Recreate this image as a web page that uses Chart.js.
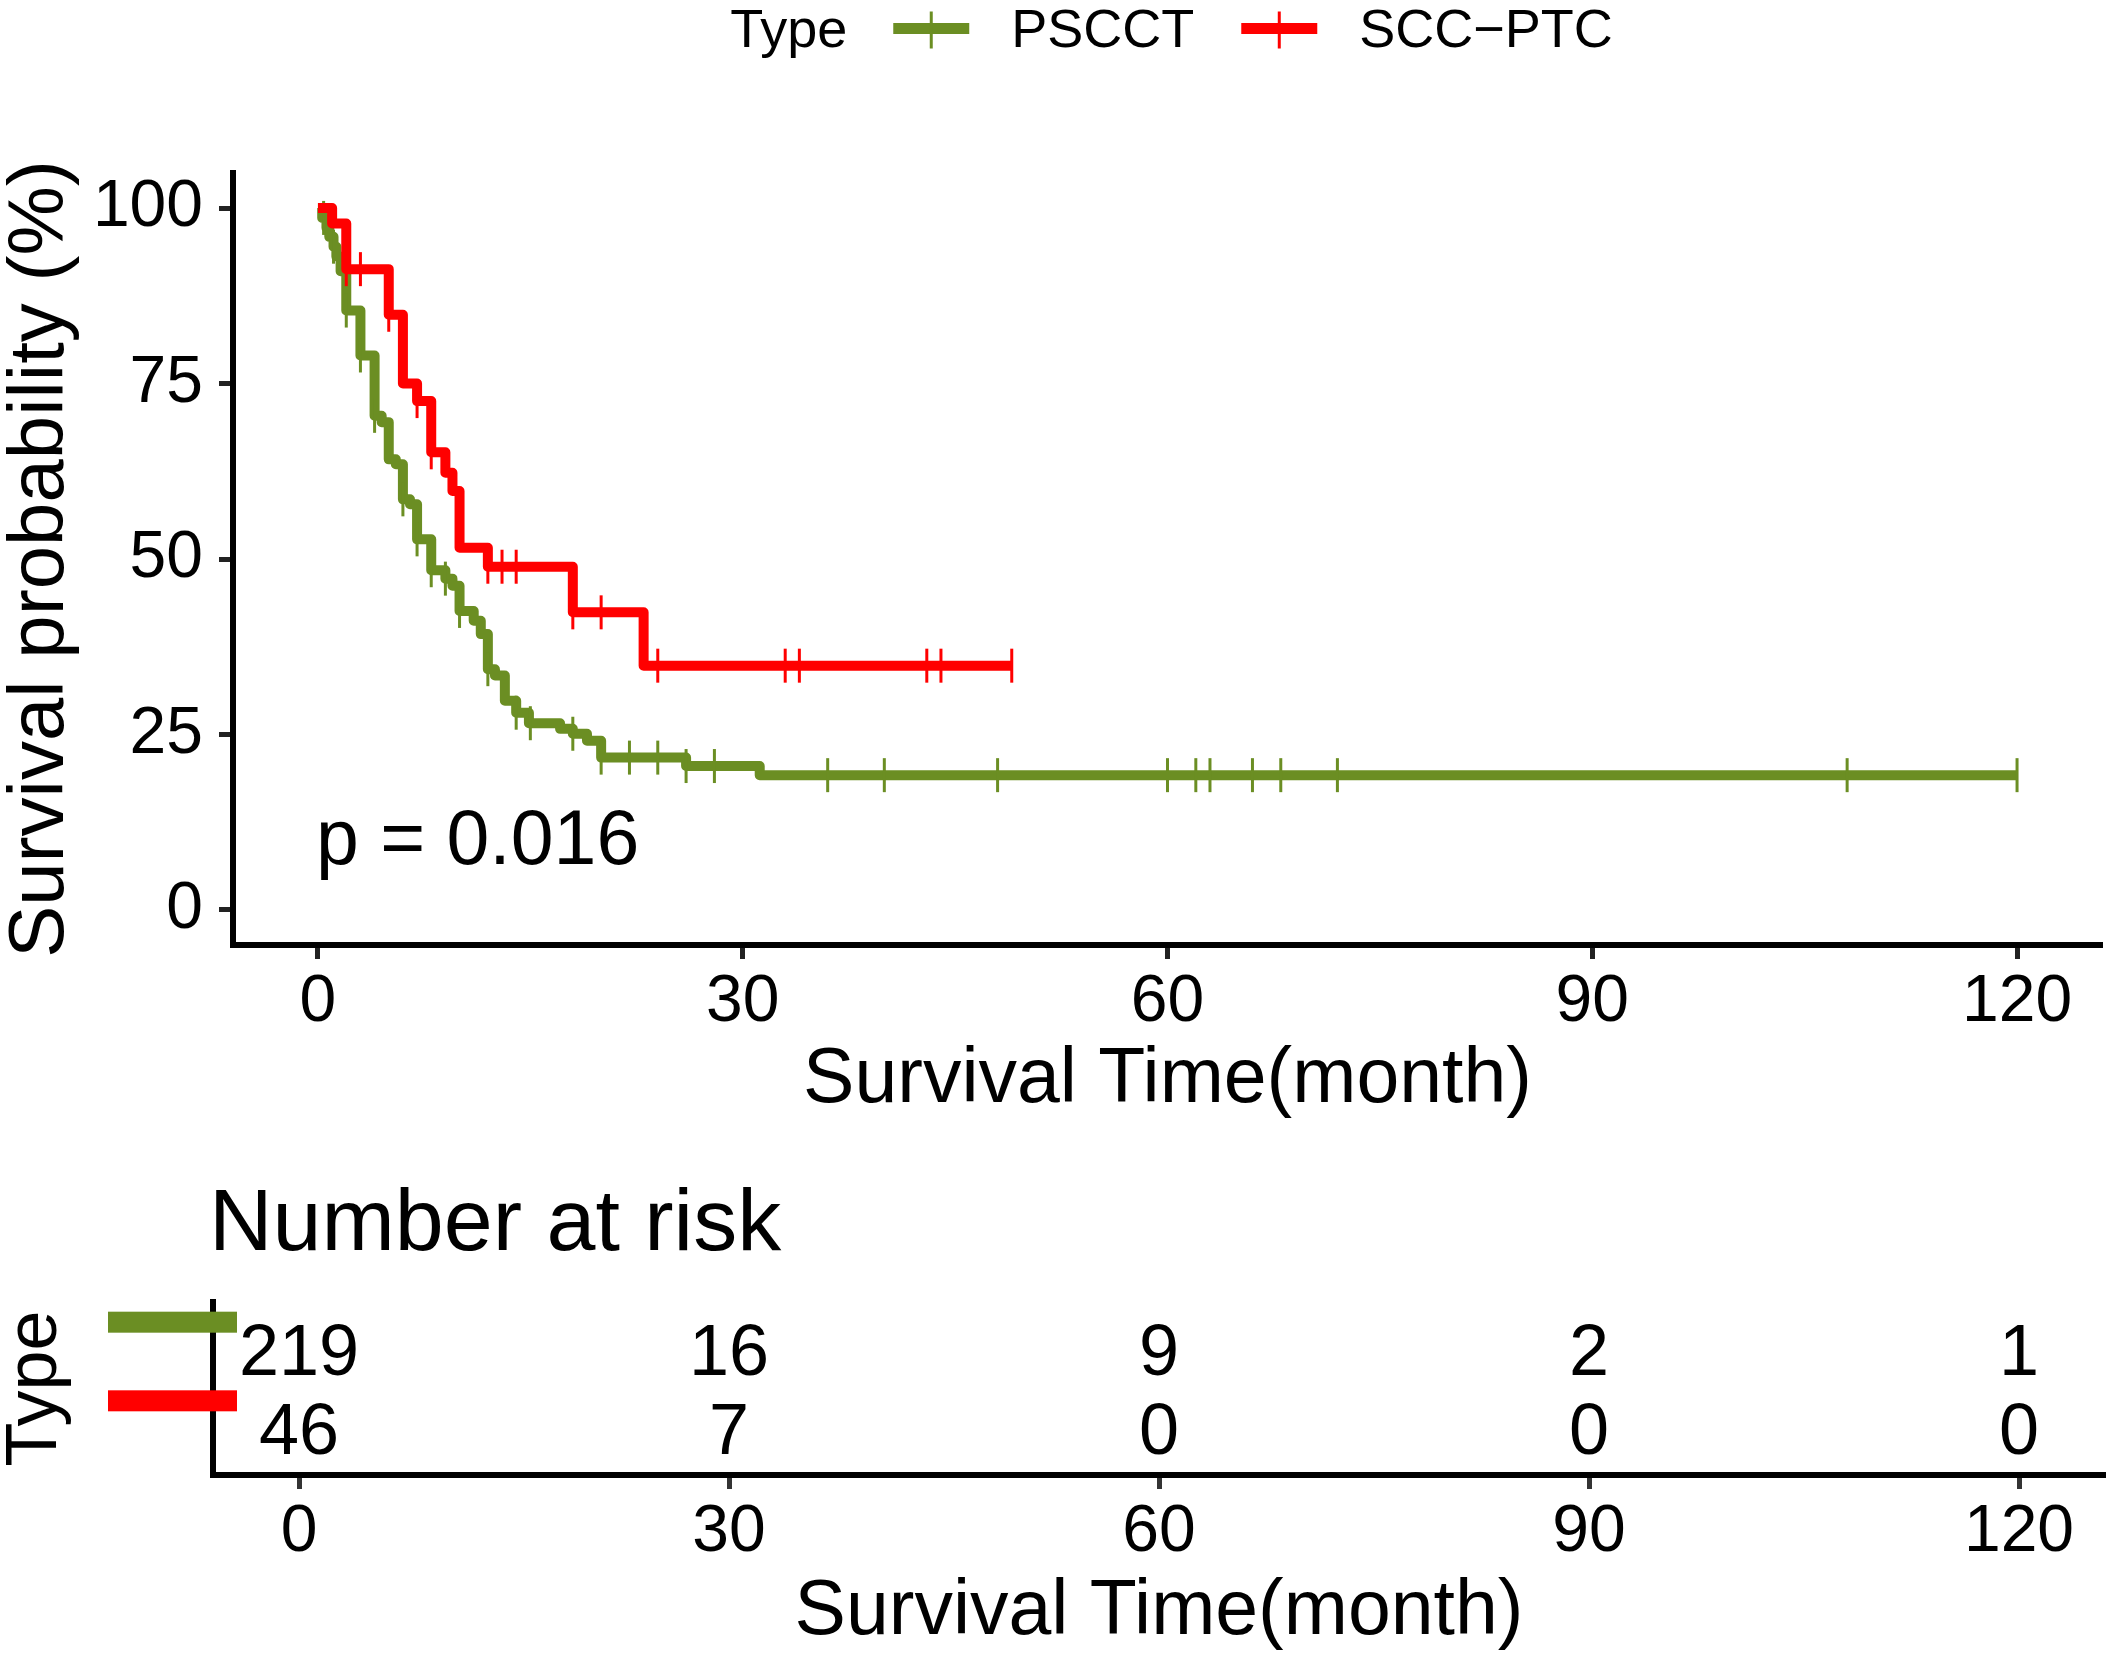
<!DOCTYPE html>
<html>
<head>
<meta charset="utf-8">
<script src="https://cdn.jsdelivr.net/npm/chart.js@4.4.0/dist/chart.umd.min.js"></script>
<style>
  html, body { margin: 0; padding: 0; background: #fff; overflow: hidden; }
  canvas { display: block; }
</style>
</head>
<body>
<canvas id="km" width="2113" height="1120"></canvas>
<canvas id="risk" width="2113" height="537"></canvas>
<script>
var FONT = '"Liberation Sans", Arial, Helvetica, sans-serif';

var groupNames = ["PSCCT", "SCC\u2212PTC"];
var groupColors = ["#6B8E23", "#FF0000"];

// Kaplan-Meier steps: time (month) and survival (%)
var pscctTime = [0, 0.3, 0.6, 0.8, 1.1, 1.3, 1.6, 2, 3, 4, 4.5, 5, 5.5, 6, 6.5, 7, 8, 9, 9.5, 10, 11, 11.5, 12, 12.5, 13.2, 14, 14.9, 17.1, 18, 19, 20, 26, 31.2, 120];
var pscctSurv = [100, 98.6, 97.2, 95.9, 94.5, 93.1, 91.0, 85.4, 79.0, 70.4, 69.5, 64.2, 63.5, 58.5, 57.8, 52.8, 48.4, 47.2, 46.2, 42.6, 41.2, 39.3, 34.3, 33.4, 29.8, 28.1, 26.6, 25.8, 25.1, 24.1, 21.7, 20.5, 19.2, 19.2];
var pscctCensor = [0.4, 1.1, 2, 3, 4, 6, 7, 8, 9, 10, 12, 14, 15, 18, 20, 22, 24, 26, 28, 36, 40, 48, 60, 62, 63, 66, 68, 72, 108, 120];

var sccTime = [0, 1, 2, 5, 6, 7, 8, 9, 9.5, 10, 12, 18, 23, 49];
var sccSurv = [100, 97.8, 91.3, 84.8, 75.0, 72.5, 65.2, 62.3, 59.7, 51.6, 48.9, 42.4, 34.8, 34.8];
var sccCensor = [2, 3, 5, 7, 8, 12, 13, 14, 18, 20, 24, 33, 34, 43, 44, 49];

var timeTicks = [0, 30, 60, 90, 120];
var survTicks = [0, 25, 50, 75, 100];
var pValueText = "p = 0.016";

// number at risk table
var riskTimes = [0, 30, 60, 90, 120];
var pscctRisk = [219, 16, 9, 2, 1];
var sccRisk = [46, 7, 0, 0, 0];
var riskRows = [2, 1];

function stepPoints(times, surv) {
  return times.map(function(t, i) { return {x: t, y: surv[i]}; });
}
function survAt(times, surv, t) {
  var s = surv[0];
  for (var i = 0; i < times.length; i++) { if (times[i] <= t) s = surv[i]; }
  return s;
}
function censorPoints(times, surv, cens) {
  return cens.map(function(t) { return {x: t, y: survAt(times, surv, t)}; });
}
function fixedTicks(list) {
  return function(scale) { scale.ticks = list.map(function(v) { return {value: v}; }); };
}
function fixHeight(h) {
  return function(s) { s.height = h; s.paddingLeft = 0; s.paddingRight = 0; };
}
function fixWidth(w) {
  return function(s) { s.width = w; s.paddingTop = 0; s.paddingBottom = 0; };
}

// ----------------------------- survival chart -----------------------------
var kmDecor = {
  id: "kmDecor",
  afterDraw: function(chart) {
    var ctx = chart.ctx, area = chart.chartArea;
    var xs = chart.scales.x, ys = chart.scales.y;
    ctx.save();
    ctx.fillStyle = "#000";
    ctx.font = "77px " + FONT;
    ctx.textAlign = "left";
    ctx.textBaseline = "middle";
    ctx.fillText(pValueText, xs.getPixelForValue(0) - 2, ys.getPixelForValue(9.5));

    // legend on top
    ctx.font = "54px " + FONT;
    ctx.textBaseline = "alphabetic";
    var keyLen = 76, gapType = 46, gapKey = 42, gapItem = 47;
    var wType = ctx.measureText("Type").width;
    var w = groupNames.map(function(n) { return ctx.measureText(n).width; });
    var total = wType + gapType + (keyLen + gapKey) * 2 + w[0] + gapItem + w[1];
    var cx = (area.left + area.right) / 2 - total / 2 + 4;
    var base = 47, mid = 28.5;
    ctx.fillText("Type", cx, base);
    cx += wType + gapType;
    for (var i = 0; i < 2; i++) {
      ctx.strokeStyle = groupColors[i];
      ctx.lineCap = "butt";
      ctx.lineWidth = 11;
      ctx.beginPath(); ctx.moveTo(cx, mid); ctx.lineTo(cx + keyLen, mid); ctx.stroke();
      ctx.lineWidth = 3;
      ctx.beginPath(); ctx.moveTo(cx + keyLen / 2, mid - 17); ctx.lineTo(cx + keyLen / 2, mid + 20); ctx.stroke();
      cx += keyLen + gapKey;
      ctx.fillStyle = "#000";
      ctx.fillText(groupNames[i], cx, base);
      cx += w[i] + gapItem;
    }
    ctx.restore();
  }
};

new Chart("km", {
  type: "line",
  data: {
    datasets: [{
      label: groupNames[1] + " censored",
      data: censorPoints(sccTime, sccSurv, sccCensor),
      showLine: false,
      pointStyle: "line",
      rotation: 90,
      pointRadius: 17,
      pointBorderWidth: 3,
      borderColor: groupColors[1],
      order: 0
    }, {
      label: groupNames[1],
      data: stepPoints(sccTime, sccSurv),
      stepped: true,
      borderColor: groupColors[1],
      borderWidth: 10,
      borderJoinStyle: "round",
      pointRadius: 0,
      fill: false,
      order: 1
    }, {
      label: groupNames[0] + " censored",
      data: censorPoints(pscctTime, pscctSurv, pscctCensor),
      showLine: false,
      pointStyle: "line",
      rotation: 90,
      pointRadius: 17,
      pointBorderWidth: 3,
      borderColor: groupColors[0],
      order: 2
    }, {
      label: groupNames[0],
      data: stepPoints(pscctTime, pscctSurv),
      stepped: true,
      borderColor: groupColors[0],
      borderWidth: 10,
      borderJoinStyle: "round",
      pointRadius: 0,
      fill: false,
      order: 3
    }]
  },
  options: {
    responsive: false,
    animation: false,
    devicePixelRatio: 1,
    layout: {autoPadding: false, padding: {top: 173, right: 11, left: 0, bottom: 0}},
    plugins: {legend: {display: false}, tooltip: {enabled: false}},
    scales: {
      x: {
        type: "linear", min: -6, max: 126,
        afterBuildTicks: fixedTicks(timeTicks),
        afterFit: fixHeight(175),
        border: {display: true, color: "#000", width: 6},
        grid: {drawOnChartArea: false, drawTicks: true, tickLength: 14, tickWidth: 5, tickColor: "#222"},
        ticks: {font: {family: FONT, size: 66}, color: "#000", padding: 4, maxRotation: 0, autoSkip: false},
        title: {display: true, text: "Survival Time(month)", color: "#000",
                font: {family: FONT, size: 77, lineHeight: 1}, padding: {top: 0, bottom: 1}}
      },
      y: {
        type: "linear", min: -5, max: 105,
        afterBuildTicks: fixedTicks(survTicks),
        afterFit: fixWidth(233),
        border: {display: true, color: "#000", width: 6},
        grid: {drawOnChartArea: false, drawTicks: true, tickLength: 14, tickWidth: 5, tickColor: "#222"},
        ticks: {font: {family: FONT, size: 66}, color: "#000", padding: 16},
        title: {display: true, text: "Survival probability (%)", color: "#000",
                font: {family: FONT, size: 78, lineHeight: 1}, padding: {top: 2, bottom: 0}}
      }
    }
  },
  plugins: [kmDecor]
});

// ----------------------------- risk table -----------------------------
var riskDecor = {
  id: "riskDecor",
  afterDatasetsDraw: function(chart) {
    var ctx = chart.ctx;
    ctx.save();
    ctx.font = "72px " + FONT;
    ctx.fillStyle = "#000";
    ctx.textAlign = "center";
    ctx.textBaseline = "alphabetic";
    chart.data.datasets.forEach(function(ds, di) {
      chart.getDatasetMeta(di).data.forEach(function(pt, i) {
        ctx.fillText(String(ds.data[i].n), pt.x, pt.y + 26);
      });
    });
    ctx.restore();
  },
  afterDraw: function(chart) {
    var ctx = chart.ctx, left = chart.chartArea.left, ys = chart.scales.y;
    ctx.save();
    ctx.fillStyle = "#000";
    ctx.font = "88px " + FONT;
    ctx.textAlign = "left";
    ctx.textBaseline = "alphabetic";
    ctx.fillText("Number at risk", left - 4, 130);
    chart.data.datasets.forEach(function(ds, di) {
      var y = ys.getPixelForValue(riskRows[di]) - 27;
      ctx.fillStyle = groupColors[di];
      ctx.fillRect(left - 105, y - 10.5, 129, 21);
    });
    ctx.restore();
  }
};

new Chart("risk", {
  type: "scatter",
  data: {
    datasets: [{
      label: groupNames[0],
      data: riskTimes.map(function(t, i) { return {x: t, y: riskRows[0], n: pscctRisk[i]}; }),
      pointRadius: 0
    }, {
      label: groupNames[1],
      data: riskTimes.map(function(t, i) { return {x: t, y: riskRows[1], n: sccRisk[i]}; }),
      pointRadius: 0
    }]
  },
  options: {
    responsive: false,
    animation: false,
    devicePixelRatio: 1,
    layout: {autoPadding: false, padding: {top: 182, right: 8, left: 0, bottom: 0}},
    plugins: {legend: {display: false}, tooltip: {enabled: false}},
    scales: {
      x: {
        type: "linear", min: -6, max: 126,
        afterBuildTicks: fixedTicks(riskTimes),
        afterFit: fixHeight(182),
        border: {display: true, color: "#000", width: 6},
        grid: {drawOnChartArea: false, drawTicks: true, tickLength: 14, tickWidth: 5, tickColor: "#333"},
        ticks: {font: {family: FONT, size: 66}, color: "#000", padding: 4, maxRotation: 0, autoSkip: false},
        title: {display: true, text: "Survival Time(month)", color: "#000",
                font: {family: FONT, size: 77, lineHeight: 1}, padding: {top: 0, bottom: 6}}
      },
      y: {
        type: "linear", min: 0.4, max: 2.6,
        afterFit: fixWidth(213),
        border: {display: true, color: "#000", width: 6},
        grid: {drawOnChartArea: false, drawTicks: false},
        ticks: {display: false},
        title: {display: true, text: "Type", color: "#000",
                font: {family: FONT, size: 72, lineHeight: 1}, padding: 0}
      }
    }
  },
  plugins: [riskDecor]
});
</script>
</body>
</html>
